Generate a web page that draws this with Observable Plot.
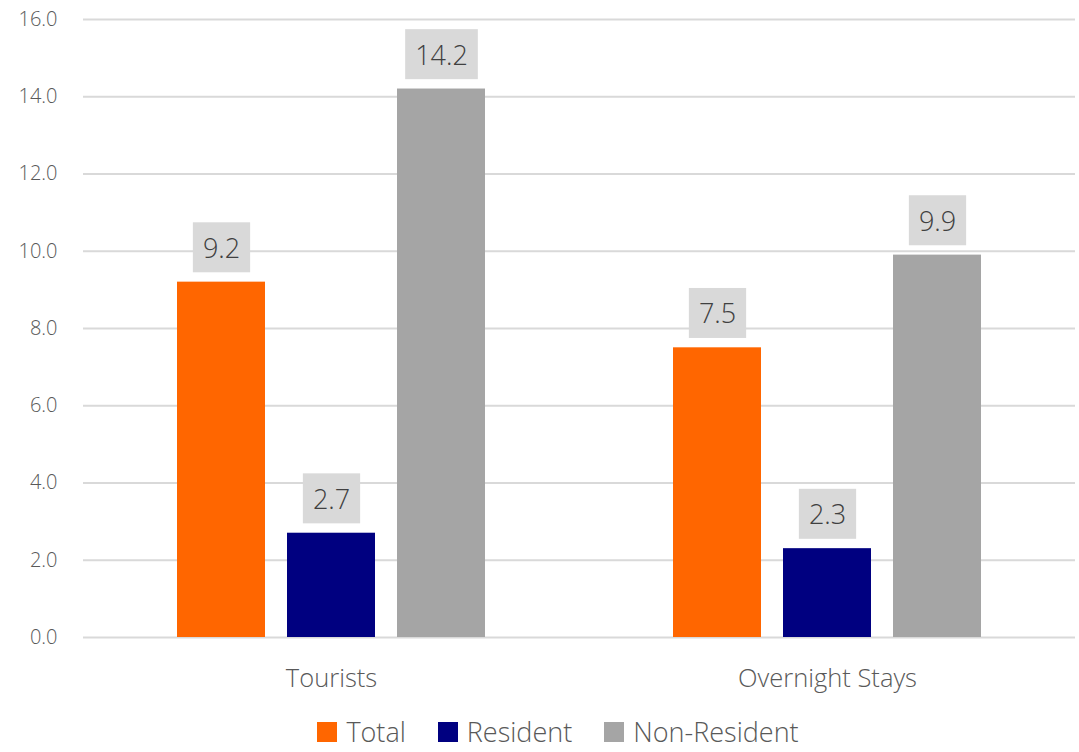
<!DOCTYPE html>
<html>
<head>
<meta charset="utf-8">
<script src="https://cdn.jsdelivr.net/npm/d3@7"></script>
<script src="https://cdn.jsdelivr.net/npm/@observablehq/plot@0.6"></script>
<style>
  html, body { margin: 0; padding: 0; background: #fff; overflow: hidden; }
  body { width: 1079px; height: 752px; font-family: "Open Sans", sans-serif; font-weight: 300; }
  #chart svg { display: block; }
  #legend { height: 40px; display: flex; justify-content: center; align-items: center; padding-left: 37px;
            font-size: 27px; line-height: 34px; color: #595959; font-weight: 300; box-sizing: border-box; width: 1079px; }
  .item { display: flex; align-items: center; margin: 0 16px; }
  .sw { width: 20px; height: 20px; margin-right: 9px; }
</style>
</head>
<body>
<div id="chart"></div>
<div id="legend"></div>
<script>
const categories = ["Tourists", "Overnight Stays"];
const series = ["Total", "Resident", "Non-Resident"];
const totalValues = [9.2, 7.5];
const residentValues = [2.7, 2.3];
const nonResidentValues = [14.2, 9.9];
const yTicks = [0, 2, 4, 6, 8, 10, 12, 14, 16];
const seriesColors = ["#FF6600", "#000080", "#A5A5A5"];

const valuesBySeries = [totalValues, residentValues, nonResidentValues];
const data = [];
categories.forEach((c, i) => {
  series.forEach((s, j) => data.push({category: c, series: s, value: valuesBySeries[j][i]}));
});

const chart = Plot.plot({
  width: 1079,
  height: 712,
  marginLeft: 83,
  marginRight: 4,
  marginTop: 19,
  marginBottom: 75,
  style: {fontFamily: "'Open Sans', sans-serif", fontWeight: 300, background: "#fff"},
  fx: {domain: categories, padding: 0, label: null, axis: null},
  x: {domain: series, paddingInner: 0.2, paddingOuter: 0.85, axis: null},
  y: {domain: [0, 16], label: null},
  color: {domain: series, range: seriesColors},
  marks: [
    Plot.gridY(yTicks, {stroke: "#D9D9D9", strokeOpacity: 1, strokeWidth: 2}),
    Plot.axisY(yTicks, {tickSize: 0, tickPadding: 26, tickFormat: d => d.toFixed(1), fontSize: 20, fill: "#595959", label: null}),
    Plot.axisFx({anchor: "bottom", tickSize: 0, tickPadding: 31, fontSize: 25.5, fill: "#595959", label: null}),
    Plot.barY(data, {fx: "category", x: "series", y: "value", fill: "series"}),
    Plot.text(data, {fx: "category", x: "series", y: "value", text: d => d.value.toFixed(1), dy: -33, fontSize: 27, fill: "#404040", className: "vlabel"})
  ]
});

document.getElementById("chart").appendChild(chart);

// background boxes behind value labels
chart.querySelectorAll(".vlabel text").forEach(t => {
  const b = t.getBBox();
  const cy = b.y + b.height / 2;
  const r = document.createElementNS("http://www.w3.org/2000/svg", "rect");
  r.setAttribute("x", b.x - 10);
  r.setAttribute("width", b.width + 20);
  r.setAttribute("y", cy - 25);
  r.setAttribute("height", 50);
  r.setAttribute("fill", "#D9D9D9");
  if (t.getAttribute("transform")) r.setAttribute("transform", t.getAttribute("transform"));
  t.parentNode.insertBefore(r, t);
});

const legend = document.getElementById("legend");
series.forEach((s, i) => {
  const item = document.createElement("div");
  item.className = "item";
  const sw = document.createElement("div");
  sw.className = "sw";
  sw.style.background = seriesColors[i];
  const lab = document.createElement("span");
  lab.textContent = s;
  item.appendChild(sw);
  item.appendChild(lab);
  legend.appendChild(item);
});
</script>
</body>
</html>
